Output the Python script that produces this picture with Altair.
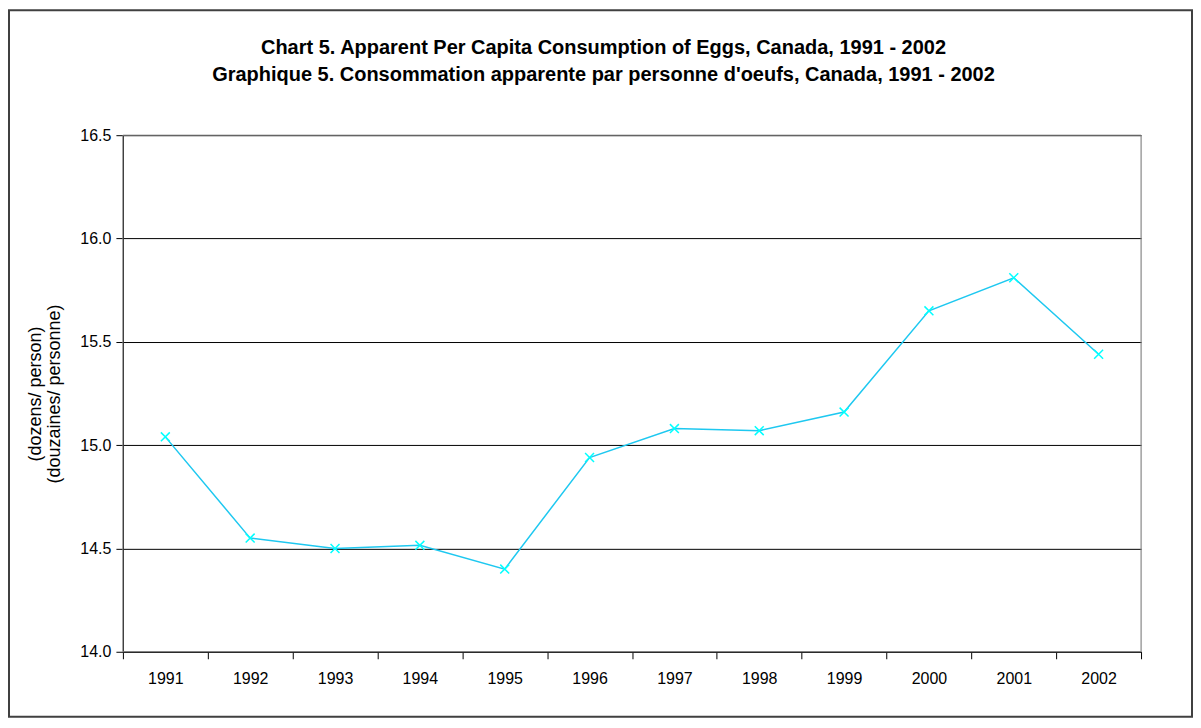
import altair as alt
import pandas as pd

years = ["1991", "1992", "1993", "1994", "1995", "1996", "1997", "1998", "1999", "2000", "2001", "2002"]
consumption = [15.04, 14.55, 14.50, 14.515, 14.40, 14.94, 15.08, 15.07, 15.16, 15.65, 15.81, 15.44]

title_lines = [
    "Chart 5. Apparent Per Capita Consumption of Eggs, Canada, 1991 - 2002",
    "Graphique 5. Consommation apparente par personne d'oeufs, Canada, 1991 - 2002",
]
y_title = ["(dozens/ person)", "(douzaines/ personne)"]

df = pd.DataFrame({"year": years, "value": consumption})

W, H = 1019, 517
PAD = {"left": 115, "top": 127, "right": 52, "bottom": 67}
FONT = "Liberation Sans"

x_enc = alt.X(
    "year:O",
    sort=years,
    bandPosition=0.5,
    scale=alt.Scale(type="band", paddingInner=0, paddingOuter=0),
    axis=alt.Axis(
        title=None, labelAngle=0, tickBand="extent", tickSize=7, tickColor="#000",
        domainColor="#000", labelFont=FONT, labelFontSize=16, labelColor="#000",
        labelPadding=12, grid=False,
    ),
)
y_enc = alt.Y(
    "value:Q",
    scale=alt.Scale(domain=[14.0, 16.5], nice=False, zero=False),
    axis=alt.Axis(
        title=y_title, values=[14.0, 14.5, 15.0, 15.5, 16.0, 16.5], format=".1f",
        tickSize=7, tickColor="#000", domainColor="#000", labelFont=FONT,
        labelFontSize=16, labelColor="#000", labelPadding=5,
        titleFont=FONT, titleFontSize=18, titleFontWeight="normal", titleColor="#000",
        titlePadding=16, titleLineHeight=19,
        grid=True, gridColor="#000", gridWidth=1,
    ),
)

base = alt.Chart(df)
line = base.mark_line(color="#1ec8f0", strokeWidth=1.5).encode(x=x_enc, y=y_enc)
pts = base.mark_point(
    shape="M-1,-1L1,1M-1,1L1,-1", filled=False, color="#00ffff", strokeWidth=1.5,
    size=80, opacity=1,
).encode(x=x_enc, y=y_enc)

one = pd.DataFrame({"a": [0]})
frame = alt.Chart(one).mark_rect(
    fill=None, stroke="#404040", strokeWidth=2
).encode(
    x=alt.value(-114), x2=alt.value(W + 51), y=alt.value(-125), y2=alt.value(H + 65)
)
border = alt.Chart(one).mark_rect(
    fill=None, stroke="#808080", strokeWidth=1
).encode(x=alt.value(0), x2=alt.value(W), y=alt.value(0), y2=alt.value(H))


def title_text(txt, ypos):
    return alt.Chart(one).mark_text(
        font=FONT, fontSize=20, fontWeight="bold", color="#000",
        align="center", baseline="alphabetic", text=txt,
    ).encode(x=alt.value(481), y=alt.value(ypos))


chart = alt.layer(
    border, line, pts, frame,
    title_text(title_lines[0], -81),
    title_text(title_lines[1], -54),
).properties(
    width=W, height=H,
    padding=PAD,
    autosize=alt.AutoSizeParams(type="none"),
).configure_view(stroke=None).configure(background="white")

chart.save("out.html", embed_options={"renderer": "svg", "actions": False})
